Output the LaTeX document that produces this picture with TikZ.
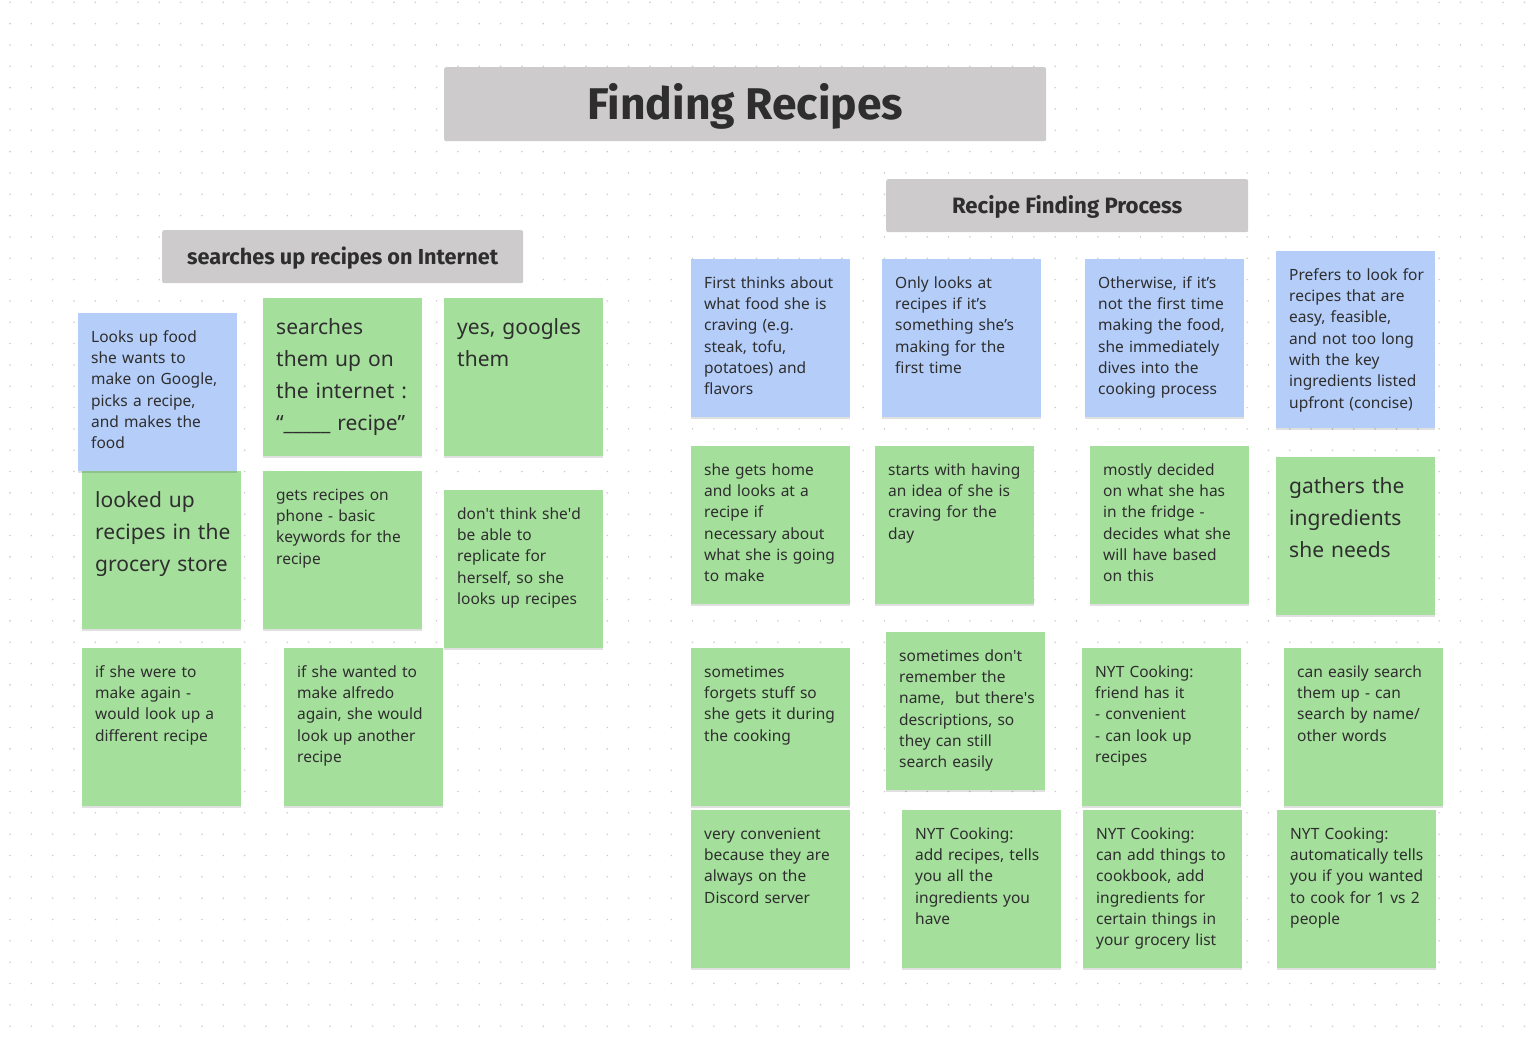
\documentclass[tikz,border=0pt]{standalone}
\usepackage{fontspec}
\setmainfont{Noto Sans}
\newfontfamily\headfont{Fira Sans}
\usepackage{xcolor}
\usepackage{tikz}
\usetikzlibrary{shadows}

\definecolor{notegreen}{HTML}{A5DF9C}
\definecolor{noteblue}{HTML}{B4CDF9}
\definecolor{headgray}{HTML}{CDCBCC}
\definecolor{ink}{HTML}{2E2E2E}
\definecolor{dotgray}{HTML}{CFCFCF}

\begin{document}
\begin{tikzpicture}[x=1pt, y=-1pt]
% Define styles
\tikzstyle{sticky} = [anchor=north west, inner xsep=6.5pt, inner ysep=14pt, text width=146pt, align=left, text=ink, drop shadow={shadow xshift=0pt, shadow yshift=-2pt, opacity=0.12, fill=black}, execute at begin node={\leftskip=6.5pt\hyphenpenalty=10000\strut}]
\tikzstyle{small} = [font=\fontsize{15.5}{21.33}\selectfont, text depth=115.07pt]
\tikzstyle{big} = [font=\fontsize{21}{32}\selectfont, text depth=107.6pt]
\tikzstyle{greennote} = [sticky, fill=notegreen]
\tikzstyle{bluenote} = [sticky, fill=noteblue]
\tikzstyle{header} = [anchor=north west, fill=headgray, rounded corners=2pt, text=ink, inner sep=0pt, text depth=0pt]

% Background and dot grid
\useasboundingbox (0,0) rectangle (1528,1038);
\fill[white] (0,0) rectangle (1528,1038);
\foreach \i in {0,...,71}
  \foreach \j in {0,...,48}
    \fill[dotgray] (10+21.33*\i, 2.3+21.33*\j) circle (0.9);

% Headers
\node[header, minimum width=602pt, minimum height=74pt, text height=31pt, font=\headfont\fontsize{44.4}{52}\selectfont\bfseries] (title) at (444,67) {Finding Recipes};
\node[header, minimum width=362pt, minimum height=53pt, text height=16pt, font=\headfont\fontsize{22.2}{26}\selectfont\bfseries] (process) at (886,179) {Recipe Finding Process};
\node[header, minimum width=361pt, minimum height=53pt, text height=16pt, font=\headfont\fontsize{21.7}{26}\selectfont\bfseries] (internet) at (162,230) {searches up recipes on Internet};

% Define nodes - left group
\node[greennote, big] (grocery) at (82,471) {looked up\\recipes in the\\grocery store};
\node[bluenote, small] (google) at (78,313) {Looks up food\\she wants to\\make on Google,\\picks a recipe,\\and makes the\\food};
\node[greennote, big] (searches) at (263,298) {searches\\them up on\\the internet :\\“\textunderscore\textunderscore\textunderscore\textunderscore\textunderscore\ recipe”};
\node[greennote, big] (googles) at (444,298) {yes, googles\\them};
\node[greennote, small] (phone) at (263,471) {gets recipes on\\phone - basic\\keywords for the\\recipe};
\node[greennote, small] (replicate) at (444,490) {don\textquotesingle t think she\textquotesingle d\\be able to\\replicate for\\herself, so she\\looks up recipes};
\node[greennote, small] (again) at (82,648) {if she were to\\make again -\\would look up a\\different recipe};
\node[greennote, small] (alfredo) at (284,648) {if she wanted to\\make alfredo\\again, she would\\look up another\\recipe};

% Define nodes - right group
\node[bluenote, small] (craving) at (691,259) {First thinks about\\what food she is\\craving (e.g.\\steak, tofu,\\potatoes) and\\flavors};
\node[bluenote, small] (firsttime) at (882,259) {Only looks at\\recipes if it’s\\something she’s\\making for the\\first time};
\node[bluenote, small] (otherwise) at (1085,259) {Otherwise, if it’s\\not the first time\\making the food,\\she immediately\\dives into the\\cooking process};
\node[bluenote, small, text depth=134.07pt] (prefers) at (1276,251) {Prefers to look for\\recipes that are\\easy, feasible,\\and not too long\\with the key\\ingredients listed\\upfront (concise)};

\node[greennote, small] (home) at (691,446) {she gets home\\and looks at a\\recipe if\\necessary about\\what she is going\\to make};
\node[greennote, small] (idea) at (875,446) {starts with having\\an idea of she is\\craving for the\\day};
\node[greennote, small] (fridge) at (1090,446) {mostly decided\\on what she has\\in the fridge -\\decides what she\\will have based\\on this};
\node[greennote, big] (gathers) at (1276,457) {gathers the\\ingredients\\she needs};

\node[greennote, small] (forgets) at (691,648) {sometimes\\forgets stuff so\\she gets it during\\the cooking};
\node[greennote, small] (name) at (886,632) {sometimes don\textquotesingle t\\remember the\\name,~ but there\textquotesingle s\\descriptions, so\\they can still\\search easily};
\node[greennote, small] (friend) at (1082,648) {NYT Cooking:\\friend has it\\- convenient\\- can look up\\recipes};
\node[greennote, small] (search) at (1284,648) {can easily search\\them up - can\\search by name/\\other words};

\node[greennote, small] (discord) at (691,810) {very convenient\\because they are\\always on the\\Discord server};
\node[greennote, small] (addrecipes) at (902,810) {NYT Cooking:\\add recipes, tells\\you all the\\ingredients you\\have};
\node[greennote, small] (cookbook) at (1083,810) {NYT Cooking:\\can add things to\\cookbook, add\\ingredients for\\certain things in\\your grocery list};
\node[greennote, small] (people) at (1277,810) {NYT Cooking:\\automatically tells\\you if you wanted\\to cook for 1 vs 2\\people};

\end{tikzpicture}
\end{document}
